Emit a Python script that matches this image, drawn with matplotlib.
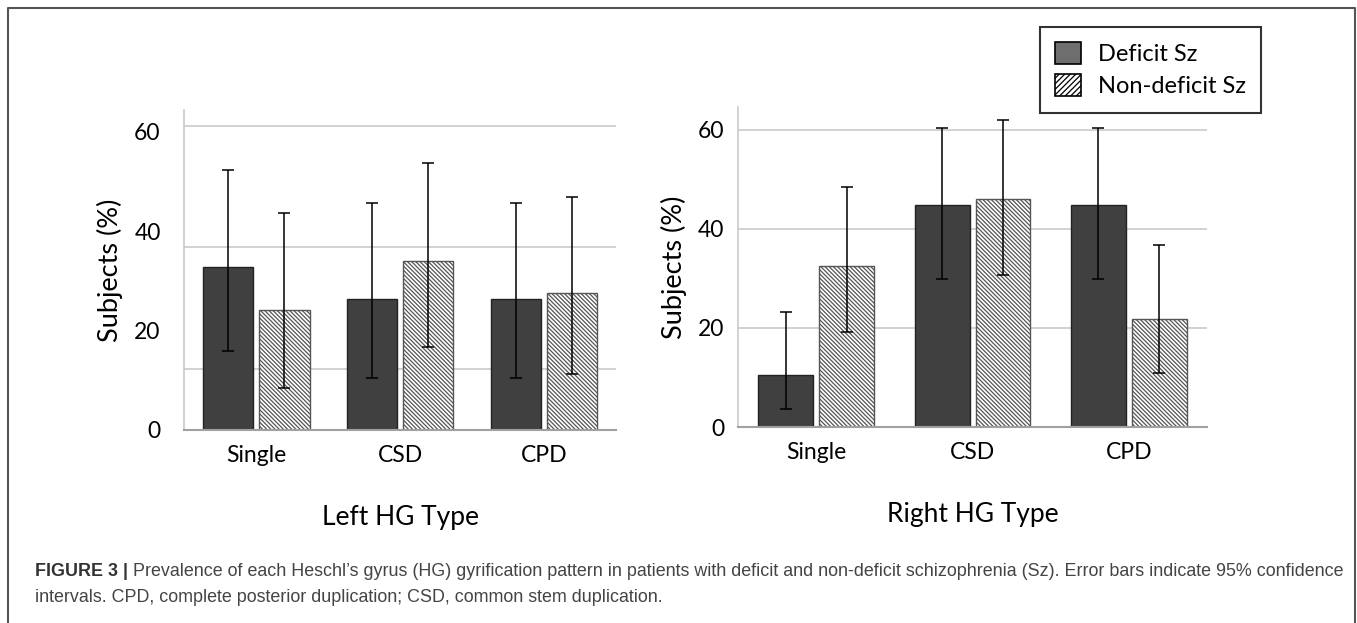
import matplotlib
matplotlib.use("Agg")
import matplotlib.pyplot as plt
from matplotlib.patches import Patch
from matplotlib.lines import Line2D

# =========================
# data
# =========================
CATEGORIES = ["Single", "CSD", "CPD"]
SERIES = ["Deficit Sz", "Non-deficit Sz"]

LEFT_DEFICIT = [32.9, 26.4, 26.4]
LEFT_DEFICIT_LO = [15.9, 10.5, 10.5]
LEFT_DEFICIT_HI = [52.3, 45.7, 45.7]
LEFT_NONDEF = [24.2, 34.1, 27.5]
LEFT_NONDEF_LO = [8.5, 16.7, 11.2]
LEFT_NONDEF_HI = [43.6, 53.8, 46.9]

RIGHT_DEFICIT = [10.5, 44.8, 44.8]
RIGHT_DEFICIT_LO = [3.7, 29.9, 29.9]
RIGHT_DEFICIT_HI = [23.1, 60.4, 60.4]
RIGHT_NONDEF = [32.4, 46.0, 21.7]
RIGHT_NONDEF_LO = [19.1, 30.7, 10.8]
RIGHT_NONDEF_HI = [48.4, 61.9, 36.7]

YTICKS = [0, 20, 40, 60]
# the left panel's gridlines do not sit on its tick labels in the original
LEFT_GRID = [12.3, 36.8, 61.1]
RIGHT_GRID = [20, 40, 60]

CAPTION_BOLD = "FIGURE 3 |"
CAPTION_1 = (" Prevalence of each Heschl\u2019s gyrus (HG) gyrification pattern in patients with deficit "
             "and non-deficit schizophrenia (Sz). Error bars indicate 95% confidence")
CAPTION_2 = "intervals. CPD, complete posterior duplication; CSD, common stem duplication."

W, H = 1357, 623
FONT = ["Lato", "DejaVu Sans"]
plt.rcParams["hatch.linewidth"] = 0.9
plt.rcParams["hatch.color"] = "#3a3a3a"

fig = plt.figure(figsize=(W / 100, H / 100), dpi=100)


def px_axes(x0, x1, y_top, y_bot):
    return fig.add_axes([x0 / W, 1 - y_bot / H, (x1 - x0) / W, (y_bot - y_top) / H])


def draw_panel(ax, dvals, dlo, dhi, nvals, nlo, nhi, grid, xlabel, tickpad, ytop):
    xs = list(range(len(CATEGORIES)))
    off = 0.195
    bw = 0.352
    for v in grid:
        ax.axhline(v, color="#c9c9c9", lw=1.2, zorder=0)
    xd = [x - off for x in xs]
    xn = [x + off for x in xs]
    ax.bar(xd, dvals, width=bw, color="#404040", edgecolor="#222222", lw=1.0, zorder=2)
    ax.bar(xn, nvals, width=bw, color="white", edgecolor="#555555", lw=1.0,
           hatch="\\" * 8, zorder=2)
    derr = [[v - lo for v, lo in zip(dvals, dlo)], [hi - v for v, hi in zip(dvals, dhi)]]
    nerr = [[v - lo for v, lo in zip(nvals, nlo)], [hi - v for v, hi in zip(nvals, nhi)]]
    ax.errorbar(xd, dvals, yerr=derr, fmt="none", ecolor="black", elinewidth=1.1,
                capsize=4, capthick=1.1, zorder=3)
    ax.errorbar(xn, nvals, yerr=nerr, fmt="none", ecolor="black", elinewidth=1.1,
                capsize=4, capthick=1.1, zorder=3)

    ax.set_xlim(-0.5, len(CATEGORIES) - 0.5)
    ax.set_ylim(0, ytop)
    ax.set_xticks(xs)
    ax.set_xticklabels(CATEGORIES, family=FONT, fontsize=16.5)
    ax.set_yticks(YTICKS)
    ax.set_yticklabels([str(t) for t in YTICKS], family=FONT, fontsize=16.5)
    ax.tick_params(axis="both", length=0)
    ax.tick_params(axis="y", pad=tickpad)
    ax.tick_params(axis="x", pad=11)
    for s in ("top", "right"):
        ax.spines[s].set_visible(False)
    ax.spines["left"].set_color("#c9c9c9")
    ax.spines["left"].set_linewidth(1.2)
    ax.spines["bottom"].set_color("#a0a0a0")
    ax.spines["bottom"].set_linewidth(1.5)
    ax.set_xlabel(xlabel, family=FONT, fontsize=19, labelpad=28)
    ax.set_ylabel("Subjects (%)", family=FONT, fontsize=19.5, labelpad=8)


ax1 = px_axes(184.3, 615.8, 110, 430)
draw_panel(ax1, LEFT_DEFICIT, LEFT_DEFICIT_LO, LEFT_DEFICIT_HI,
           LEFT_NONDEF, LEFT_NONDEF_LO, LEFT_NONDEF_HI, LEFT_GRID,
           "Left HG Type", 17, 64.4)

ax2 = px_axes(738.3, 1206.8, 106.7, 427)
draw_panel(ax2, RIGHT_DEFICIT, RIGHT_DEFICIT_LO, RIGHT_DEFICIT_HI,
           RIGHT_NONDEF, RIGHT_NONDEF_LO, RIGHT_NONDEF_HI, RIGHT_GRID,
           "Right HG Type", 10, 64.6)

handles = [Patch(facecolor="#6e6e6e", edgecolor="black", lw=1.2),
           Patch(facecolor="white", edgecolor="black", lw=1.2, hatch="//////")]
leg = fig.legend(handles, SERIES, loc="upper left",
                 bbox_to_anchor=(1040 / W, 1 - 27 / H), borderaxespad=0,
                 prop={"family": FONT, "size": 17}, frameon=True, fancybox=False,
                 handlelength=1.1, handleheight=1.05, handletextpad=0.7,
                 labelspacing=0.38, borderpad=0.65)
leg.get_frame().set_edgecolor("black")
leg.get_frame().set_linewidth(1.5)

# outer frame (open at the bottom)
fx0, fx1, fy = 8 / W, 1355 / W, 1 - 8 / H
fig.add_artist(Line2D([fx0, fx0, fx1, fx1], [-0.1, fy, fy, -0.1], color="#555555", lw=1.5,
                      transform=fig.transFigure))

# caption
cap_font = ["Liberation Sans", "DejaVu Sans"]
cap_size = 12.9
t_bold = fig.text(35 / W, 1 - 572 / H, CAPTION_BOLD, family=cap_font, fontsize=cap_size,
                  fontweight="bold", color="#333333", va="center")
fig.canvas.draw()
bb = t_bold.get_window_extent()
fig.text(bb.x1 / W, 1 - 572 / H, CAPTION_1, family=cap_font, fontsize=cap_size,
         color="#444444", va="center")
fig.text(35 / W, 1 - 597 / H, CAPTION_2, family=cap_font, fontsize=cap_size,
         color="#444444", va="center")

fig.savefig("out.png", dpi=100)
